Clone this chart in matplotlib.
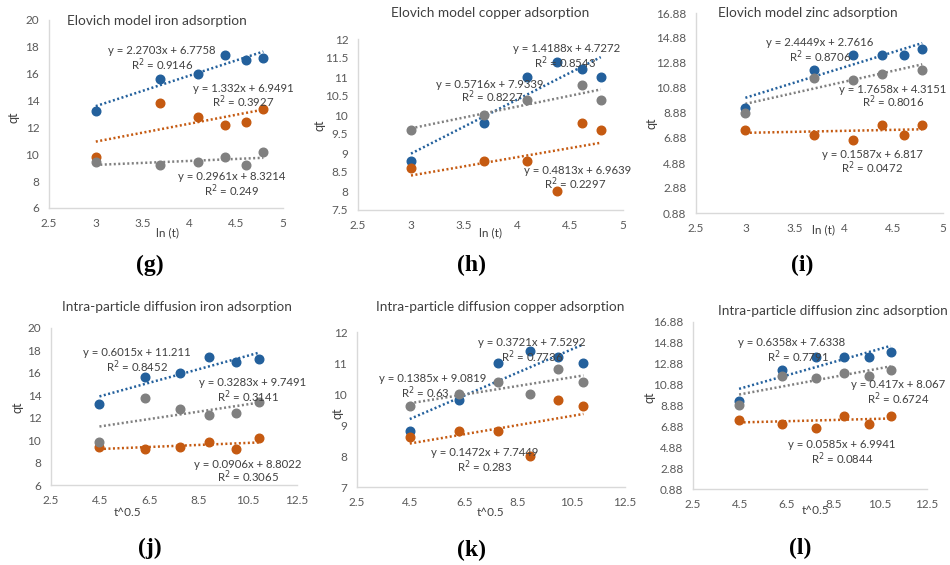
import numpy as np
import matplotlib
matplotlib.use("Agg")
import matplotlib.pyplot as plt

W, H = 950, 565

# x values (ln t and t^0.5 for t = 20..120 min)
ln_t = [3.0, 3.69, 4.09, 4.38, 4.61, 4.79]
sqrt_t = [4.47, 6.32, 7.75, 8.94, 10.0, 10.95]

# (g) Elovich iron
g_blue = [13.2, 15.6, 16.0, 17.4, 17.0, 17.2]
g_orange = [9.8, 13.8, 12.8, 12.2, 12.4, 13.4]
g_gray = [9.4, 9.2, 9.4, 9.8, 9.2, 10.2]
g_fits = [(2.2703, 6.7758, "0.9146"), (1.332, 6.9491, "0.3927"), (0.2961, 8.3214, "0.249")]

# (h) Elovich copper
h_blue = [8.8, 9.8, 11.0, 11.4, 11.2, 11.0]
h_orange = [8.6, 8.8, 8.8, 8.0, 9.8, 9.6]
h_gray = [9.6, 10.0, 10.4, np.nan, 10.8, 10.4]
h_fits = [(1.4188, 4.7272, "0.8543"), (0.4813, 6.9639, "0.2297"), (0.5716, 7.9339, "0.8227")]

# (i) Elovich zinc
i_blue = [9.3, 12.3, 13.5, 13.5, 13.5, 14.0]
i_orange = [7.5, 7.1, 6.7, 7.9, 7.1, 7.9]
i_gray = [8.9, 11.7, 11.5, 12.0, np.nan, 12.3]
i_fits = [(2.4449, 2.7616, "0.8706"), (0.1587, 6.817, "0.0472"), (1.7658, 4.3151, "0.8016")]

# (j) intra-particle iron
j_blue = [13.2, 15.6, 16.0, 17.4, 17.0, 17.2]
j_orange = [9.4, 9.2, 9.4, 9.8, 9.2, 10.2]
j_gray = [9.8, 13.8, 12.8, 12.2, 12.4, 13.4]
j_fits = [(0.6015, 11.211, "0.8452"), (0.0906, 8.8022, "0.3065"), (0.3283, 9.7491, "0.3141")]

# (k) intra-particle copper
k_blue = [8.8, 9.8, 11.0, 11.4, 11.2, 11.0]
k_orange = [8.6, 8.8, 8.8, 8.0, 9.8, 9.6]
k_gray = [9.6, 10.0, 10.4, 10.0, 10.8, 10.4]
k_fits = [(0.3721, 7.5292, "0.7736"), (0.1472, 7.7449, "0.283"), (0.1385, 9.0819, "0.63")]

# (l) intra-particle zinc
l_blue = [9.3, 12.3, 13.5, 13.5, 13.5, 14.0]
l_orange = [7.5, 7.1, 6.7, 7.9, 7.1, 7.9]
l_gray = [8.9, 11.7, 11.5, 12.0, 11.7, 12.3]
l_fits = [(0.6358, 7.6338, "0.7791"), (0.0585, 6.9941, "0.0844"), (0.417, 8.067, "0.6724")]

COLORS = ["#23609c", "#c55a11", "#808080"]
FONT = "Lato"
TXT = "#404040"

fig = plt.figure(figsize=(W / 100, H / 100), dpi=100)
fig.patch.set_facecolor("white")


def px_text(x, y, s, **kw):
    kw.setdefault("fontfamily", FONT)
    kw.setdefault("color", TXT)
    kw.setdefault("fontsize", 8.2)
    fig.text(x / W, 1 - y / H, s, ha="center", va="center", **kw)


def panel(box, x, series, fits, xlim, xticks, ylim, yticks, title, title_xy,
          eq_xy, ylab_xy, xlab, xlab_xy, tag, tag_xy):
    l, t, r, b = box
    ax = fig.add_axes([l / W, 1 - b / H, (r - l) / W, (b - t) / H])
    for ys, (m, c, r2), col in zip(series, fits, COLORS):
        ax.plot(x, ys, "o", color=col, ms=6.2, mec=col, zorder=3, clip_on=False)
        xx = np.array([x[0], x[-1]])
        ax.plot(xx, m * xx + c, color=col, lw=1.8, zorder=2,
                linestyle=(0, (0.8, 1.0)))
    ax.set_xlim(*xlim)
    ax.set_ylim(*ylim)
    ax.set_xticks(xticks)
    ax.set_yticks(yticks)
    ax.set_xticklabels(["%g" % v for v in xticks])
    ax.set_yticklabels(["%g" % v for v in yticks])
    for s in ["top", "right"]:
        ax.spines[s].set_visible(False)
    for s in ["left", "bottom"]:
        ax.spines[s].set_color("#d9d9d9")
        ax.spines[s].set_linewidth(1)
    ax.tick_params(length=0, labelsize=8.5, labelcolor="#595959", pad=7)
    for lab in ax.get_xticklabels() + ax.get_yticklabels():
        lab.set_fontfamily(FONT)
    ax.patch.set_alpha(0)

    px_text(*title_xy, title, fontsize=9.8, color="#404040")
    for (m, c, r2), (ex, ey, rx, ry) in zip(fits, eq_xy):
        px_text(ex, ey, "y = %gx + %g" % (m, c))
        px_text(rx, ry, "R$^2$ = " + r2)
    px_text(*ylab_xy, "qt", rotation=90, fontsize=9)
    px_text(*xlab_xy, xlab, fontsize=8.5)
    px_text(*tag_xy, tag, fontfamily="Liberation Serif", fontweight="bold",
            fontsize=17, color="black")


e_xlim, e_ticks = (2.5, 5), [2.5, 3, 3.5, 4, 4.5, 5]
p_xlim, p_ticks = (2.5, 12.5), [2.5, 4.5, 6.5, 8.5, 10.5, 12.5]
zinc_ticks = [0.88, 2.88, 4.88, 6.88, 8.88, 10.88, 12.88, 14.88, 16.88]

panel((49, 20, 283, 208), ln_t, [g_blue, g_orange, g_gray], g_fits,
      e_xlim, e_ticks, (6, 20), [6, 8, 10, 12, 14, 16, 18, 20],
      "Elovich model iron adsorption", (157, 21),
      [(162, 51, 162, 65), (243, 88, 243, 102), (232, 177, 232, 191)],
      (13, 117), "ln (t)", (167, 233), "(g)", (150, 265))

panel((358, 39, 623, 210), ln_t, [h_blue, h_orange, h_gray], h_fits,
      e_xlim, e_ticks, (7.5, 12), [7.5, 8, 8.5, 9, 9.5, 10, 10.5, 11, 11.5, 12],
      "Elovich model copper adsorption", (490, 13),
      [(567, 48, 565, 63), (578, 170, 575, 184), (490, 84, 492, 97)],
      (320, 125), "ln (t)", (490, 233), "(h)", (472, 265))

panel((696, 13, 943, 213), ln_t, [i_blue, i_orange, i_gray], i_fits,
      e_xlim, e_ticks, (0.88, 16.88), zinc_ticks,
      "Elovich model zinc adsorption", (808, 13),
      [(820, 43, 820, 57), (872, 154, 872, 168), (893, 89, 893, 102)],
      (652, 123), "ln (t)", (823, 230), "(i)", (802, 265))

panel((51, 328, 297, 485), sqrt_t, [j_blue, j_orange, j_gray], j_fits,
      p_xlim, p_ticks, (6, 20), [6, 8, 10, 12, 14, 16, 18, 20],
      "Intra-particle diffusion iron adsorption", (177, 307),
      [(137, 353, 137, 367), (248, 464, 248, 477), (253, 383, 248, 397)],
      (18, 407), "t^0.5", (127, 512), "(j)", (150, 548))

panel((357, 332, 625, 487), sqrt_t, [k_blue, k_orange, k_gray], k_fits,
      p_xlim, p_ticks, (7, 12), [7, 8, 9, 10, 11, 12],
      "Intra-particle diffusion copper adsorption", (500, 307),
      [(532, 342, 532, 357), (485, 453, 485, 467), (433, 378, 425, 393)],
      (337, 413), "t^0.5", (490, 513), "(k)", (472, 550))

panel((693, 322, 927, 489), sqrt_t, [l_blue, l_orange, l_gray], l_fits,
      p_xlim, p_ticks, (0.88, 16.88), zinc_ticks,
      "Intra-particle diffusion zinc adsorption", (833, 311),
      [(792, 343, 798, 357), (842, 445, 842, 459), (898, 385, 898, 399)],
      (650, 397), "t^0.5", (815, 511), "(l)", (800, 548))

fig.savefig("out.png", dpi=100, facecolor="white")
